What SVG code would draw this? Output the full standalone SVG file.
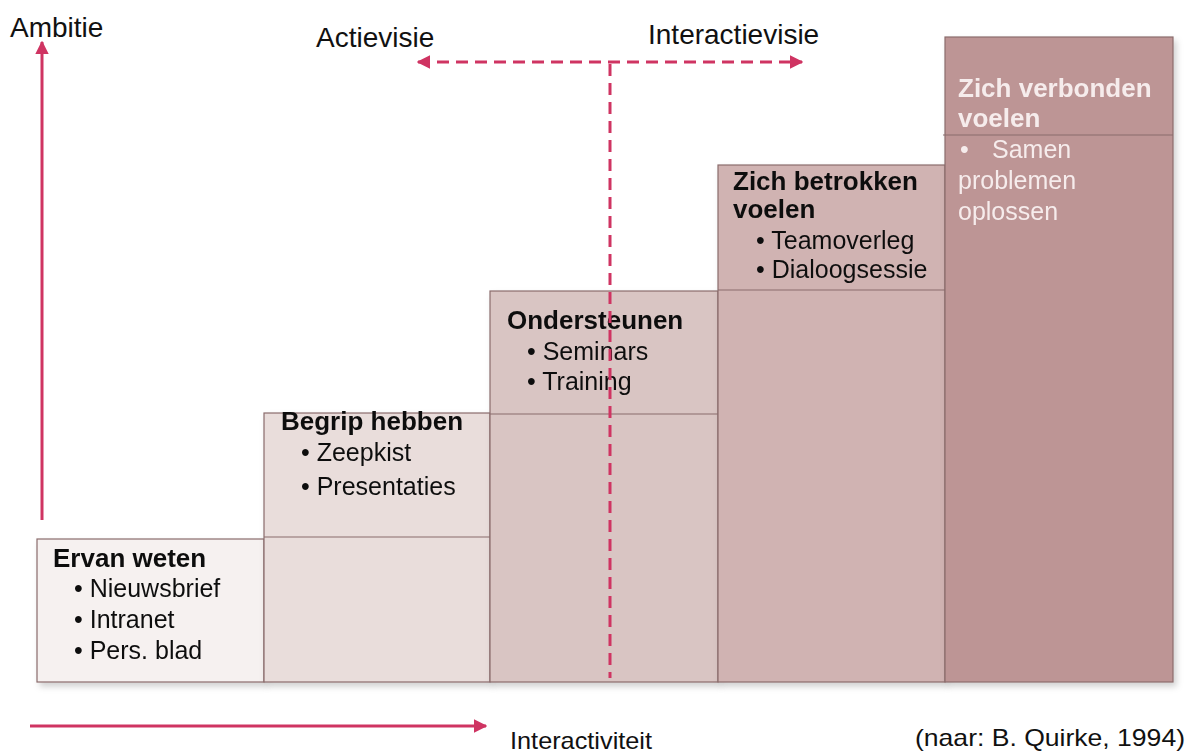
<svg xmlns="http://www.w3.org/2000/svg" width="1188" height="756" viewBox="0 0 1188 756">
<defs>
<style>
text{font-family:"Liberation Sans",Arial,sans-serif;fill:#111}
.t{font-size:28px}
.h{font-size:26px;font-weight:bold}
.b{font-size:25px}
.w{fill:#f6ecec}
.box{stroke:#8a6c6c;stroke-width:1.2}
.ax{stroke:#cf3462;stroke-width:3;fill:none}
.da{stroke:#cf3462;stroke-width:3;fill:none;stroke-dasharray:12 7}
</style>
<marker id="ah" viewBox="0 0 10 10" refX="9" refY="5" markerWidth="4.5" markerHeight="4.5" orient="auto-start-reverse" markerUnits="strokeWidth">
<path d="M0,0 L10,5 L0,10 z" fill="#cf3462"/>
</marker>
<filter id="sh" x="-10%" y="-10%" width="130%" height="130%">
<feDropShadow dx="3" dy="4" stdDeviation="3" flood-color="#000" flood-opacity="0.18"/>
</filter>
</defs>
<rect width="1188" height="756" fill="#fff"/>

<g id="box1" filter="url(#sh)">
<rect class="box" x="37" y="539" width="227" height="143" fill="#f6f1f0"/>
<text class="h" x="53" y="567">Ervan weten</text>
<text class="b" x="74" y="597">• Nieuwsbrief</text>
<text class="b" x="74" y="628">• Intranet</text>
<text class="b" x="74" y="659">• Pers. blad</text>
</g>

<g id="box2" filter="url(#sh)">
<rect class="box" x="264" y="413" width="226" height="269" fill="#e9dddb"/>
<line class="box" x1="264" y1="537" x2="490" y2="537"/>
<text class="h" x="281" y="430">Begrip hebben</text>
<text class="b" x="301" y="461">• Zeepkist</text>
<text class="b" x="301" y="495">• Presentaties</text>
</g>

<g id="box3" filter="url(#sh)">
<rect class="box" x="490" y="291" width="228" height="391" fill="#d9c5c3"/>
<line class="box" x1="490" y1="414" x2="718" y2="414"/>
<text class="h" x="507" y="329">Ondersteunen</text>
<text class="b" x="527" y="360">• Seminars</text>
<text class="b" x="527" y="390">• Training</text>
</g>

<g id="box4" filter="url(#sh)">
<rect class="box" x="718" y="165" width="227" height="517" fill="#d0b3b2"/>
<line class="box" x1="718" y1="290" x2="945" y2="290"/>
<text class="h" x="733" y="190">Zich betrokken</text>
<text class="h" x="733" y="218">voelen</text>
<text class="b" x="756" y="249">• Teamoverleg</text>
<text class="b" x="756" y="278">• Dialoogsessie</text>
</g>

<g id="box5" filter="url(#sh)">
<rect class="box" x="945" y="37" width="228" height="645" fill="#bd9595"/>
<line class="box" x1="943" y1="135" x2="1173" y2="135"/>
<text class="h w" x="958" y="97">Zich verbonden</text>
<text class="h w" x="958" y="127">voelen</text>
<text class="b w" x="960" y="158">•</text>
<text class="b w" x="992" y="158">Samen</text>
<text class="b w" x="958" y="189">problemen</text>
<text class="b w" x="958" y="220">oplossen</text>
</g>

<g id="connectors">
<line class="ax" x1="42" y1="520" x2="42" y2="42" marker-end="url(#ah)"/>
<line class="ax" x1="30" y1="726" x2="486" y2="726" marker-end="url(#ah)"/>
<line class="da" x1="418" y1="62" x2="802" y2="62" marker-start="url(#ah)" marker-end="url(#ah)"/>
<line class="da" x1="610" y1="64" x2="610" y2="678"/>
</g>

<g id="labels">
<text class="t" x="10" y="37">Ambitie</text>
<text class="t" x="316" y="47">Actievisie</text>
<text class="t" x="648" y="44">Interactievisie</text>
<text class="t" x="510" y="749" style="font-size:24px" textLength="142" lengthAdjust="spacingAndGlyphs">Interactiviteit</text>
<text class="t" x="915" y="746" style="font-size:24px" textLength="270" lengthAdjust="spacingAndGlyphs">(naar: B. Quirke, 1994)</text>
</g>
</svg>
